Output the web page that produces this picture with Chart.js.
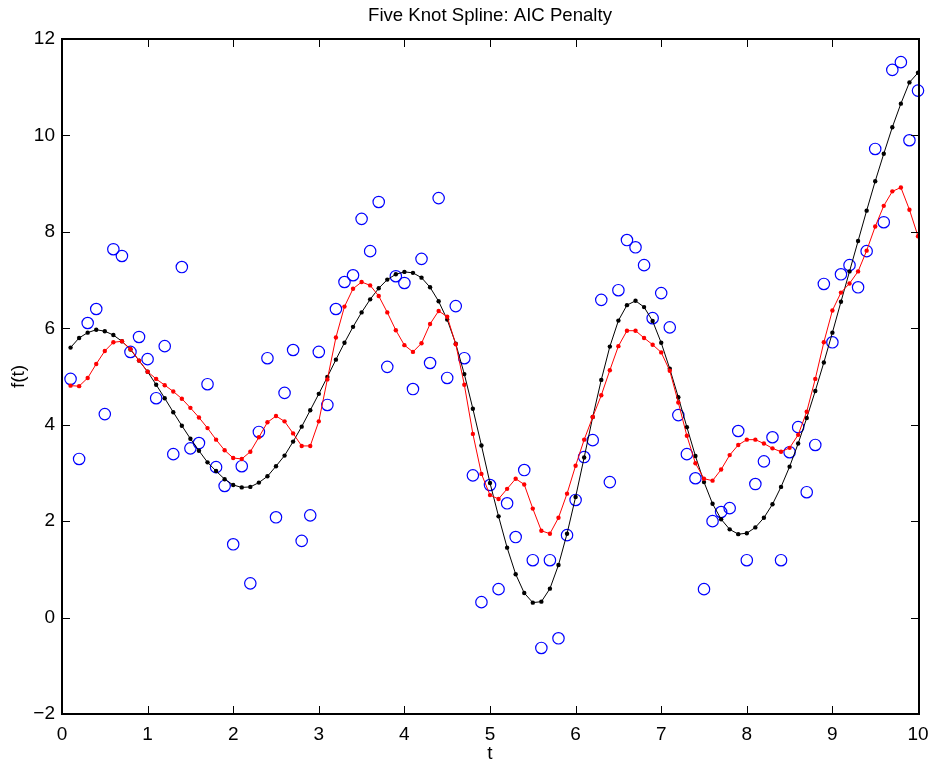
<!DOCTYPE html>
<html lang="es">
<head>
<meta charset="utf-8">
<title>Five Knot Spline: AIC Penalty</title>
<script src="https://cdn.jsdelivr.net/npm/chart.js@4.4.1/dist/chart.umd.min.js"></script>
<style>
    html, body { margin: 0; padding: 0; background: #fff; }
    canvas { display: block; }
</style>
</head>
<body>
<canvas id="grafico" width="931" height="763"></canvas>
<script>
// Valores de t (eje horizontal)
const valoresT = [
    0.1, 0.2, 0.3, 0.4, 0.5, 0.6, 0.7, 0.8, 0.9, 1.0,
    1.1, 1.2, 1.3, 1.4, 1.5, 1.6, 1.7, 1.8, 1.9, 2.0,
    2.1, 2.2, 2.3, 2.4, 2.5, 2.6, 2.7, 2.8, 2.9, 3.0,
    3.1, 3.2, 3.3, 3.4, 3.5, 3.6, 3.7, 3.8, 3.9, 4.0,
    4.1, 4.2, 4.3, 4.4, 4.5, 4.6, 4.7, 4.8, 4.9, 5.0,
    5.1, 5.2, 5.3, 5.4, 5.5, 5.6, 5.7, 5.8, 5.9, 6.0,
    6.1, 6.2, 6.3, 6.4, 6.5, 6.6, 6.7, 6.8, 6.9, 7.0,
    7.1, 7.2, 7.3, 7.4, 7.5, 7.6, 7.7, 7.8, 7.9, 8.0,
    8.1, 8.2, 8.3, 8.4, 8.5, 8.6, 8.7, 8.8, 8.9, 9.0,
    9.1, 9.2, 9.3, 9.4, 9.5, 9.6, 9.7, 9.8, 9.9, 10.0
];

// Observaciones (círculos azules)
const observados = [
    4.95, 3.29, 6.11, 6.40, 4.22, 7.64, 7.50, 5.51, 5.82, 5.36,
    4.55, 5.63, 3.39, 7.27, 3.51, 3.62, 4.84, 3.12, 2.73, 1.52,
    3.14, 0.71, 3.85, 5.38, 2.08, 4.66, 5.55, 1.59, 2.12, 5.51,
    4.41, 6.40, 6.96, 7.10, 8.27, 7.60, 8.62, 5.20, 7.08, 6.94,
    4.74, 7.44, 5.28, 8.70, 4.97, 6.46, 5.38, 2.95, 0.32, 2.75,
    0.59, 2.37, 1.67, 3.06, 1.19, -0.63, 1.19, -0.43, 1.71, 2.44,
    3.33, 3.68, 6.59, 2.81, 6.79, 7.83, 7.68, 7.31, 6.21, 6.73,
    6.02, 4.20, 3.39, 2.89, 0.59, 2.00, 2.19, 2.27, 3.87, 1.19,
    2.77, 3.24, 3.74, 1.19, 3.43, 3.95, 2.60, 3.58, 6.92, 5.71,
    7.12, 7.31, 6.85, 7.60, 9.72, 8.20, 11.36, 11.52, 9.90, 10.93
];

// Función verdadera (línea negra)
const curvaReal = [
    5.60, 5.80, 5.91, 5.97, 5.94, 5.86, 5.73, 5.56, 5.33, 5.10,
    4.83, 4.55, 4.26, 3.98, 3.71, 3.46, 3.22, 3.04, 2.87, 2.75,
    2.70, 2.71, 2.80, 2.93, 3.14, 3.36, 3.65, 3.96, 4.30, 4.64,
    4.99, 5.35, 5.70, 6.03, 6.33, 6.60, 6.83, 7.01, 7.12, 7.17,
    7.15, 7.05, 6.85, 6.56, 6.18, 5.68, 5.05, 4.33, 3.57, 2.79,
    2.10, 1.45, 0.90, 0.51, 0.31, 0.33, 0.60, 1.09, 1.74, 2.50,
    3.32, 4.16, 4.93, 5.62, 6.16, 6.48, 6.57, 6.44, 6.15, 5.70,
    5.16, 4.57, 3.95, 3.35, 2.81, 2.36, 2.04, 1.83, 1.73, 1.75,
    1.87, 2.07, 2.35, 2.71, 3.13, 3.61, 4.14, 4.70, 5.29, 5.91,
    6.55, 7.18, 7.81, 8.44, 9.05, 9.62, 10.17, 10.66, 11.10, 11.30
];

// Ajuste spline de cinco nodos con penalización AIC (línea roja)
const curvaAIC = [
    4.81, 4.80, 4.97, 5.26, 5.53, 5.71, 5.73, 5.57, 5.33, 5.10,
    4.95, 4.82, 4.69, 4.54, 4.35, 4.15, 3.93, 3.69, 3.47, 3.31,
    3.29, 3.44, 3.74, 4.05, 4.18, 4.07, 3.82, 3.56, 3.56, 4.07,
    4.94, 5.81, 6.45, 6.82, 6.96, 6.89, 6.67, 6.33, 5.96, 5.65,
    5.51, 5.69, 6.09, 6.36, 6.24, 5.67, 4.83, 3.81, 2.98, 2.54,
    2.46, 2.67, 2.88, 2.76, 2.26, 1.80, 1.74, 2.07, 2.57, 3.15,
    3.69, 4.16, 4.61, 5.13, 5.63, 5.95, 5.95, 5.80, 5.66, 5.50,
    5.12, 4.46, 3.77, 3.20, 2.88, 2.84, 3.07, 3.37, 3.58, 3.69,
    3.69, 3.61, 3.51, 3.44, 3.52, 3.79, 4.27, 4.95, 5.71, 6.37,
    6.74, 6.93, 7.18, 7.61, 8.11, 8.54, 8.84, 8.92, 8.46, 7.91
];

// Marcas de los ejes
const ticksX = [0, 1, 2, 3, 4, 5, 6, 7, 8, 9, 10];
const etiquetasX = ['0', '1', '2', '3', '4', '5', '6', '7', '8', '9', '10'];
const ticksY = [-2, 0, 2, 4, 6, 8, 10, 12];
const etiquetasY = ['\u22122', '0', '2', '4', '6', '8', '10', '12'];

const COLORES = {
    azul: '#0000ff',
    negro: '#000000',
    rojo: '#ff0000'
};
const FUENTE = "'Liberation Sans', Arial, Helvetica, sans-serif";

/**
 * Convertir una serie en puntos {x, y}
 */
function aPuntos(valores) {
    return valores.map(function(v, i) {
        return { x: valoresT[i], y: v };
    });
}

/**
 * Plugin: caja del eje y marcas hacia adentro (estilo MATLAB)
 */
const marcasInternas = {
    id: 'marcasInternas',
    afterDraw(chart) {
        const ctx = chart.ctx;
        const a = chart.chartArea;
        const escX = chart.scales.x;
        const escY = chart.scales.y;
        const largo = 8;
        const izq = Math.round(a.left);
        const der = Math.round(a.right) + 1;
        const arr = Math.round(a.top);
        const abj = Math.round(a.bottom);

        ctx.save();
        ctx.strokeStyle = '#000000';

        // marcas
        ctx.lineWidth = 1;
        ctx.beginPath();
        ticksX.forEach(function(v) {
            const px = Math.round(escX.getPixelForValue(v)) + 0.5;
            ctx.moveTo(px, abj);
            ctx.lineTo(px, abj - largo);
            ctx.moveTo(px, arr);
            ctx.lineTo(px, arr + largo);
        });
        ticksY.forEach(function(v) {
            const py = Math.round(escY.getPixelForValue(v)) + 0.5;
            ctx.moveTo(izq, py);
            ctx.lineTo(izq + largo, py);
            ctx.moveTo(der, py);
            ctx.lineTo(der - largo, py);
        });
        ctx.stroke();

        // caja completa
        ctx.lineWidth = 2;
        ctx.strokeRect(izq, arr, der - izq, abj - arr);
        ctx.restore();
    }
};

Chart.defaults.font.family = FUENTE;
Chart.defaults.color = '#000';

new Chart(document.getElementById('grafico'), {
    type: 'line',
    data: {
        datasets: [
            {
                label: 'AIC',
                data: aPuntos(curvaAIC),
                borderColor: COLORES.rojo,
                backgroundColor: COLORES.rojo,
                borderWidth: 1,
                pointRadius: 2.2,
                pointBorderWidth: 0,
                pointBackgroundColor: COLORES.rojo,
                tension: 0,
                order: 1
            },
            {
                label: 'Real',
                data: aPuntos(curvaReal),
                borderColor: COLORES.negro,
                backgroundColor: COLORES.negro,
                borderWidth: 1,
                pointRadius: 2.2,
                pointBorderWidth: 0,
                pointBackgroundColor: COLORES.negro,
                tension: 0,
                order: 2
            },
            {
                label: 'Datos',
                data: aPuntos(observados),
                showLine: false,
                pointStyle: 'circle',
                pointRadius: 5.7,
                pointBorderWidth: 1.2,
                pointBorderColor: COLORES.azul,
                pointBackgroundColor: 'rgba(0,0,0,0)',
                clip: false,
                order: 3
            }
        ]
    },
    options: {
        responsive: false,
        devicePixelRatio: 1,
        animation: false,
        layout: { padding: { top: 0, right: 13, bottom: 0, left: 0 } },
        plugins: {
            legend: { display: false },
            tooltip: { enabled: false },
            title: {
                display: true,
                fullSize: false,
                text: 'Five Knot Spline: AIC Penalty',
                color: '#000',
                font: { size: 18.6, weight: 'normal', lineHeight: 1.2 },
                padding: { top: 5, bottom: 11.7 }
            }
        },
        scales: {
            x: {
                type: 'linear',
                min: 0,
                max: 10,
                grid: { display: false, drawTicks: false },
                border: { display: false },
                afterBuildTicks: function(s) {
                    s.ticks = ticksX.map(function(v) { return { value: v }; });
                },
                afterFit: function(s) {
                    s.height = 49;
                    s.paddingLeft = 0;
                    s.paddingRight = 0;
                },
                ticks: {
                    padding: 9,
                    maxRotation: 0,
                    font: { size: 19 },
                    callback: function(value) {
                        return etiquetasX[ticksX.indexOf(value)];
                    }
                },
                title: {
                    display: true,
                    text: 't',
                    font: { size: 19, lineHeight: 1 },
                    padding: 0
                }
            },
            y: {
                type: 'linear',
                min: -2,
                max: 12,
                grid: { display: false, drawTicks: false },
                border: { display: false },
                afterBuildTicks: function(s) {
                    s.ticks = ticksY.map(function(v) { return { value: v }; });
                },
                afterFit: function(s) {
                    s.width = 62;
                    s.paddingTop = 0;
                    s.paddingBottom = 0;
                },
                ticks: {
                    padding: 7,
                    font: { size: 19 },
                    callback: function(value) {
                        return etiquetasY[ticksY.indexOf(value)];
                    }
                },
                title: {
                    display: true,
                    text: 'f(t)',
                    font: { size: 19, lineHeight: 1 },
                    padding: { top: 9, bottom: 0 }
                }
            }
        }
    },
    plugins: [marcasInternas]
});
</script>
</body>
</html>
